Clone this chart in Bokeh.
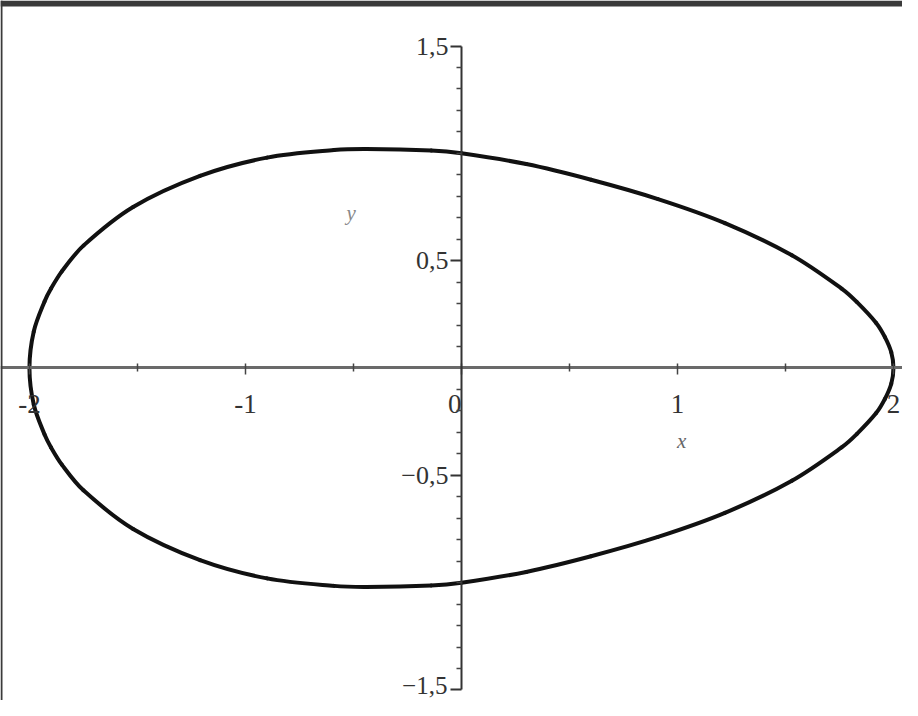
import math
from bokeh.plotting import figure
from bokeh.models import Range1d, FixedTicker, Label, BoxAnnotation, ColumnDataSource
from bokeh.embed import file_html
from bokeh.resources import INLINE

# upper half of the closed curve; lower half is its mirror
curve_x = [-2.00, -1.98, -1.93, -1.90, -1.85, -1.75, -1.52, -1.21, -0.90, -0.59,
           -0.44, -0.14, 0.00, 0.30, 0.60, 0.91, 1.22, 1.53, 1.76, 1.83,
           1.92, 1.96, 1.99, 2.00]
curve_y = [0.00, 0.17, 0.31, 0.37, 0.45, 0.57, 0.75, 0.895, 0.98, 1.015,
           1.02, 1.013, 1.00, 0.95, 0.877, 0.787, 0.675, 0.525, 0.37, 0.308,
           0.21, 0.145, 0.073, 0.00]

x_major_ticks = [-2, -1, 0, 1, 2]
x_minor_ticks = [-1.5, -0.5, 0.5, 1.5]
x_tick_labels = ["-2", "-1", "0\u2002", "1", "2"]

y_major_ticks = [-1.5, -0.5, 0.5, 1.5]
y_minor_ticks = [-1.4, -1.3, -1.2, -1.1, -1.0, -0.9, -0.8, -0.7, -0.6,
                 -0.4, -0.3, -0.2, -0.1, 0.1, 0.2, 0.3, 0.4,
                 0.6, 0.7, 0.8, 0.9, 1.0, 1.1, 1.2, 1.3, 1.4]
y_tick_labels = ["\u22121,5", "\u22120,5", "0,5", "1,5"]

X0, X1 = -2.134, 2.042
Y0, Y1 = -1.549, 1.712
PX_X, PX_Y = 216.0, 214.7  # pixels per unit

p = figure(width=902, height=700, output_backend="svg", toolbar_location=None,
           x_range=Range1d(X0, X1), y_range=Range1d(Y0, Y1),
           min_border=0, background_fill_color="white", border_fill_color="white")
p.outline_line_color = None
p.grid.visible = False

LABEL_FONT = "Liberation Serif"
LABEL_SIZE = "26px"

# x axis through y = 0
xa = p.xaxis[0]
xa.fixed_location = 0
xa.ticker = FixedTicker(ticks=x_major_ticks, minor_ticks=x_minor_ticks)
xa.major_label_overrides = {t: s for t, s in zip(x_major_ticks, x_tick_labels)}
xa.axis_line_color = "#6a6a6a"
xa.axis_line_width = 3
xa.major_tick_line_color = "#444444"
xa.major_tick_line_width = 1.5
xa.major_tick_in = 4
xa.major_tick_out = 7
xa.minor_tick_line_color = "#444444"
xa.minor_tick_line_width = 1.5
xa.minor_tick_in = 4
xa.minor_tick_out = 4
xa.major_label_text_font = LABEL_FONT
xa.major_label_text_font_size = "27px"
xa.major_label_text_color = "#333333"
xa.major_label_standoff = 14

# y axis through x = 0
ya = p.yaxis[0]
ya.fixed_location = 0
ya.bounds = (-1.5, 1.5)
ya.ticker = FixedTicker(ticks=y_major_ticks, minor_ticks=y_minor_ticks)
overrides = {t: s for t, s in zip(y_major_ticks, y_tick_labels)}
overrides[y_major_ticks[0]] = ""  # bottom label drawn separately so it stays inside the picture
ya.major_label_overrides = overrides
ya.axis_line_color = "#333333"
ya.axis_line_width = 2
ya.major_tick_line_color = "#333333"
ya.major_tick_line_width = 2
ya.major_tick_in = 0
ya.major_tick_out = 11
ya.minor_tick_line_color = "#444444"
ya.minor_tick_line_width = 1.5
ya.minor_tick_in = 0
ya.minor_tick_out = 5
ya.major_label_text_font = LABEL_FONT
ya.major_label_text_font_size = LABEL_SIZE
ya.major_label_text_color = "#333333"
ya.major_label_standoff = 2

p.add_layout(Label(x=0, y=y_major_ticks[0], text=y_tick_labels[0], x_offset=-14, y_offset=4,
                   text_font=LABEL_FONT, text_font_size="25px", text_color="#333333",
                   text_align="right", text_baseline="middle"))

# closed loop: upper half left->right, lower half right->left
loop_x = curve_x + curve_x[-2::-1]
loop_y = curve_y + [-v for v in curve_y[-2::-1]]
n = len(loop_x) - 1  # last point equals first

def pt(i):
    i = i % n
    return loop_x[i] * PX_X, loop_y[i] * PX_Y

def tangent(i):
    a, b = pt(i - 1), pt(i + 1)
    dx, dy = b[0] - a[0], b[1] - a[1]
    d = math.hypot(dx, dy)
    return dx / d, dy / d

seg = dict(x0=[], y0=[], x1=[], y1=[], cx0=[], cy0=[], cx1=[], cy1=[])
for i in range(n):
    p0, p1 = pt(i), pt(i + 1)
    t0, t1 = tangent(i), tangent(i + 1)
    L = math.hypot(p1[0] - p0[0], p1[1] - p0[1]) / 3.0
    seg["x0"].append(p0[0] / PX_X); seg["y0"].append(p0[1] / PX_Y)
    seg["x1"].append(p1[0] / PX_X); seg["y1"].append(p1[1] / PX_Y)
    seg["cx0"].append((p0[0] + t0[0] * L) / PX_X)
    seg["cy0"].append((p0[1] + t0[1] * L) / PX_Y)
    seg["cx1"].append((p1[0] - t1[0] * L) / PX_X)
    seg["cy1"].append((p1[1] - t1[1] * L) / PX_Y)

p.bezier(x0="x0", y0="y0", x1="x1", y1="y1", cx0="cx0", cy0="cy0", cx1="cx1", cy1="cy1",
         source=ColumnDataSource(seg), line_color="#111111", line_width=4, line_cap="round")

p.add_layout(Label(x=1.02, y=-0.34, text="x", text_font=LABEL_FONT,
                   text_font_style="italic", text_font_size="21px", text_color="#666666",
                   text_align="center", text_baseline="middle"))
p.add_layout(Label(x=-0.51, y=0.72, text="y", text_font=LABEL_FONT,
                   text_font_style="italic", text_font_size="21px", text_color="#888888",
                   text_align="center", text_baseline="middle"))

# dark frame edge at the top and left of the picture
p.add_layout(BoxAnnotation(top=Y1, bottom=Y1 - 6 / PX_Y, fill_color="#3a3a3a",
                           fill_alpha=1, line_color=None))
p.add_layout(BoxAnnotation(left=X0, right=X0 + 2 / PX_X, fill_color="#3a3a3a",
                           fill_alpha=1, line_color=None))

open("out.html", "w").write(file_html(p, INLINE))
